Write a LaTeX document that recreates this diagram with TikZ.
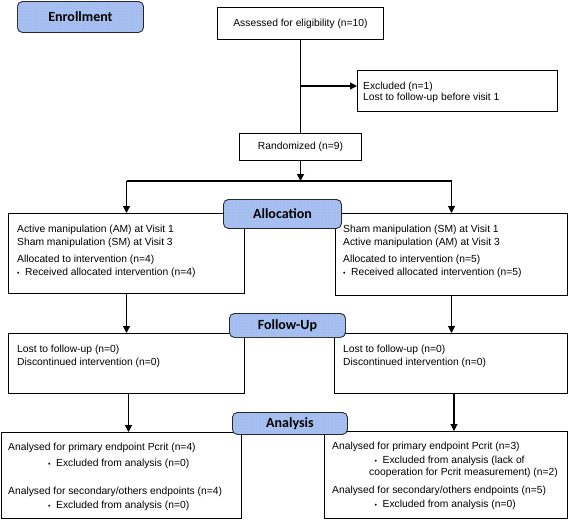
\documentclass[tikz,border=0pt]{standalone}
\usepackage{fontspec}
\setmainfont{Liberation Sans}
\newfontfamily\labfont{Carlito}
\usetikzlibrary{arrows.meta,patterns,calc}
\definecolor{labblue}{RGB}{163,189,240}
\definecolor{dotcol}{RGB}{200,214,246}
\newcommand{\mybul}{{\fontsize{7}{7}\selectfont •}\hspace{5.5pt}}
\begin{document}
\begin{tikzpicture}[x=1pt,y=1pt,
  box/.style={draw=black, line width=1pt, rectangle, inner sep=0pt, anchor=north west,
    font=\fontsize{10.3}{12}\selectfont},
  txt/.style={anchor=base west, inner sep=0pt, font=\fontsize{10.3}{12}\selectfont},
  lab/.style={draw=black!85, line width=0.9pt, rounded corners=5pt, fill=labblue,
    inner sep=0pt, anchor=north west, font=\labfont\bfseries\fontsize{14}{14}\selectfont,
    postaction={pattern=dots, pattern color=dotcol}},
  conn/.style={draw=black, line width=1.1pt},
  arr/.style={conn, -{Triangle[length=7pt,width=7pt]}}
]
\useasboundingbox (0,0) rectangle (568,-520);

% boxes
\node[box, minimum width=166pt, minimum height=32pt] (assess) at (217,-7) {Assessed for eligibility (n=10)};
\node[box, minimum width=200pt, minimum height=41pt] (excl) at (357,-70) {};
\node[box, minimum width=122pt, minimum height=27pt] (rand) at (239,-133) {Randomized (n=9)};
\node[box, minimum width=236pt, minimum height=80pt] (alL) at (8,-213) {};
\node[box, minimum width=232pt, minimum height=82pt] (alR) at (335,-213) {};
\node[box, minimum width=236pt, minimum height=60pt] (fuL) at (8,-333) {};
\node[box, minimum width=233pt, minimum height=60pt] (fuR) at (334,-333) {};
\node[box, minimum width=240pt, minimum height=86pt] (anL) at (0.5,-432) {};
\node[box, minimum width=243pt, minimum height=87pt] (anR) at (324,-431) {};

% texts
\node[txt] (ex1) at (363,-89) {Excluded (n=1)};
\node[txt] (ex2) at (363,-100) {Lost to follow-up before visit 1};

\node[txt] (l1) at (17,-232) {Active manipulation (AM) at Visit 1};
\node[txt] (l2) at (17,-245) {Sham manipulation (SM) at Visit 3};
\node[txt] (l3) at (17,-262) {Allocated to intervention (n=4)};
\node[txt] (l4) at (17,-275) {\mybul Received allocated intervention (n=4)};

\node[txt] (r1) at (343,-232) {Sham manipulation (SM) at Visit 1};
\node[txt] (r2) at (343,-245) {Active manipulation (AM) at Visit 3};
\node[txt] (r3) at (343,-262) {Allocated to intervention (n=5)};
\node[txt] (r4) at (343,-275) {\mybul Received allocated intervention (n=5)};

\node[txt] (fl1) at (17,-352) {Lost to follow-up (n=0)};
\node[txt] (fl2) at (17,-365) {Discontinued intervention (n=0)};
\node[txt] (fr1) at (343,-352) {Lost to follow-up (n=0)};
\node[txt] (fr2) at (343,-365) {Discontinued intervention (n=0)};

\node[txt] (al1) at (8,-450) {Analysed for primary endpoint Pcrit (n=4)};
\node[txt] (al2) at (48,-466) {\mybul Excluded from analysis (n=0)};
\node[txt] (al3) at (8,-494) {Analysed for secondary/others endpoints (n=4)};
\node[txt] (al4) at (48,-508) {\mybul Excluded from analysis (n=0)};

\node[txt] (ar1) at (332,-449) {Analysed for primary endpoint Pcrit (n=3)};
\node[txt] (ar2) at (374.5,-463) {\mybul Excluded from analysis (lack of};
\node[txt] (ar3) at (369,-475.5) {cooperation for Pcrit measurement) (n=2)};
\node[txt] (ar4) at (332,-493) {Analysed for secondary/others endpoints (n=5)};
\node[txt] (ar5) at (374.5,-507) {\mybul Excluded from analysis (n=0)};

% connectors
\draw[conn] (assess.south) -- (assess.south |- rand.north);
\coordinate (br) at (assess.south |- 0,-86);
\draw[arr] (br) -- (br -| excl.west);
\coordinate (jn) at (rand.south |- 0,-181);
\draw[arr] (rand.south) -- (jn);
\draw[conn] (alL.north |- jn) -- (alR.north |- jn);
\draw[arr] (alL.north |- jn) -- (alL.north);
\draw[arr] (alR.north |- jn) -- (alR.north);
\draw[arr] (alL.south) -- (alL.south |- fuL.north);
\draw[arr] (alR.south) -- (alR.south |- fuR.north);
\draw[arr] ($(fuL.south)+(2,0)$) -- ($(fuL.south |- anL.north)+(2,0)$);
\draw[arr] ($(fuR.south)+(3,0)$) -- ($(fuR.south |- anR.north)+(3,0)$);

% stage labels
\node[lab, minimum width=126pt, minimum height=31pt] (enr) at (17,-1) {Enrollment};
\node[lab, minimum width=118pt, minimum height=29pt] (alloc) at (223,-199) {Allocation};
\node[lab, minimum width=116pt, minimum height=24pt] (fol) at (229,-313) {Follow-Up};
\node[lab, minimum width=115pt, minimum height=22pt] (ana) at (232,-412) {Analysis};
\end{tikzpicture}
\end{document}
